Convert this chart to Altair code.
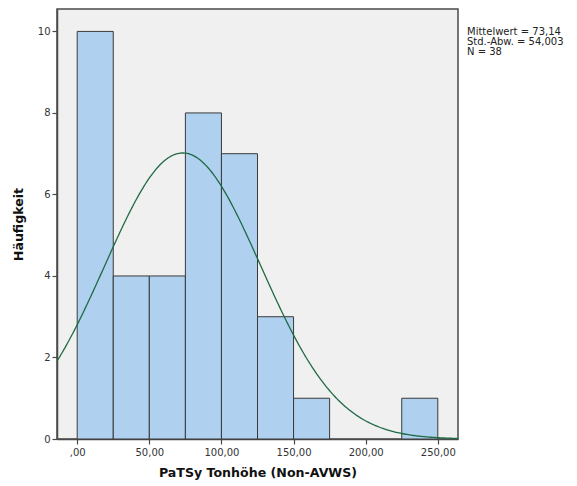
import altair as alt
import numpy as np
import pandas as pd

# Histogram bins (width 25) and counts
bin_starts = [0, 25, 50, 75, 100, 125, 150, 175, 200, 225]
bin_ends = [25, 50, 75, 100, 125, 150, 175, 200, 225, 250]
counts = [10, 4, 4, 8, 7, 3, 1, 0, 0, 1]

# Summary statistics shown beside the plot
mean_val = 73.14
sd_val = 54.003
n_val = 38
bin_width = 25
stat_lines = ["Mittelwert = 73,14", "Std.-Abw. = 54,003", "N = 38"]

x_domain = [-14, 264]
y_domain = [0, 10.55]

bars = pd.DataFrame({"start": bin_starts, "end": bin_ends, "count": counts})
bars = bars[bars["count"] > 0]

# Normal density scaled to counts
xs = np.linspace(x_domain[0], x_domain[1], 300)
ys = n_val * bin_width / (sd_val * np.sqrt(2 * np.pi)) * np.exp(-0.5 * ((xs - mean_val) / sd_val) ** 2)
curve = pd.DataFrame({"x": xs, "y": ys})

stats = pd.DataFrame({"label": ["\n".join(stat_lines)]})

W, H = 401, 430
FONT = "DejaVu Sans"

x_scale = alt.Scale(domain=x_domain, nice=False, zero=False)
y_scale = alt.Scale(domain=y_domain, nice=False)

x_axis = alt.Axis(
    title="PaTSy Tonhöhe (Non-AVWS)",
    values=[0, 50, 100, 150, 200, 250],
    labelExpr="datum.value == 0 ? ',00' : replace(format(datum.value, '.2f'), '.', ',')",
    grid=False, tickSize=5, labelPadding=3, titlePadding=9,
)
y_axis = alt.Axis(
    title="Häufigkeit",
    values=[0, 2, 4, 6, 8, 10],
    format="d",
    grid=False, tickSize=5, labelPadding=2, titlePadding=12,
)

hist = alt.Chart(bars).mark_rect(
    fill="#AFD0EE", stroke="#3a3a3a", strokeWidth=1
).encode(
    x=alt.X("start:Q", scale=x_scale, axis=x_axis),
    x2="end:Q",
    y=alt.Y("count:Q", scale=y_scale, axis=y_axis),
    y2=alt.datum(0),
)

line = alt.Chart(curve).mark_line(color="#1f6b45", strokeWidth=1.3, clip=True).encode(
    x=alt.X("x:Q", scale=x_scale),
    y=alt.Y("y:Q", scale=y_scale),
)

text = alt.Chart(stats).mark_text(
    align="left", baseline="top", fontSize=10, font=FONT, color="#222222",
    lineBreak="\n", lineHeight=10,
).encode(
    x=alt.value(W + 9),
    y=alt.value(18),
    text="label:N",
)

chart = alt.layer(hist, line, text).properties(
    width=W, height=H,
    autosize=alt.AutoSizeParams(type="none"),
    padding={"left": 57, "top": 9, "right": 119, "bottom": 47},
    background="white",
).configure_view(
    fill="#F0F0F0", stroke="#4a4a4a", strokeWidth=1.5
).configure_axis(
    labelFont=FONT, labelFontSize=10, labelColor="#333333",
    titleFont=FONT, titleFontSize=12.6, titleFontWeight="bold", titleColor="#111111",
    domainColor="#4a4a4a", tickColor="#4a4a4a", domainWidth=1.5, tickWidth=1.2,
)

chart.save("out.html", embed_options={"renderer": "svg", "actions": False})
